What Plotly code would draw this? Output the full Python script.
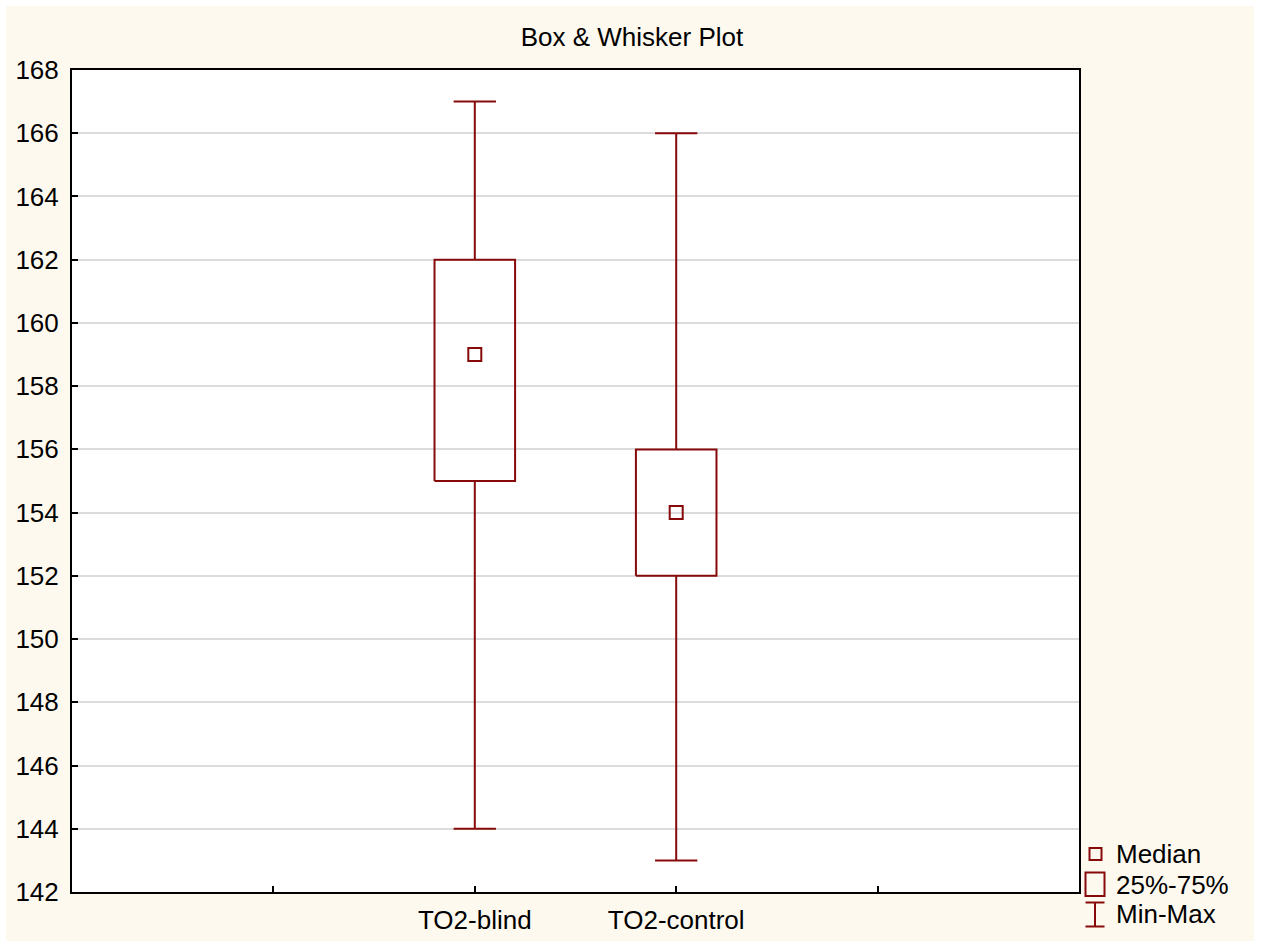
import plotly.graph_objects as go

# Summary statistics per group
categories = ["TO2-blind", "TO2-control"]
positions = [2, 3]
mins = [144, 143]
q1s = [155, 152]
medians = [159, 154]
q3s = [162, 156]
maxs = [167, 166]

x_tickvals = [1, 2, 3, 4]
x_ticktext = ["", "TO2-blind", "TO2-control", ""]
y_tickvals = list(range(142, 170, 2))

W, H = 1264, 943
ML, MR, MT, MB = 72, 185, 70, 51
FONT = "Liberation Sans, Arial, sans-serif"
FS = 26
RED = "#860A0A"
CREAM = "#FEF9EE"

BOX_HALF = 0.2
CAP_HALF = 0.105

fig = go.Figure()

# whiskers and caps
wx, wy = [], []
for p, lo, a, b, hi in zip(positions, mins, q1s, q3s, maxs):
    wx += [p, p, None, p, p, None]
    wy += [lo, a, None, b, hi, None]
    wx += [p - CAP_HALF, p + CAP_HALF, None, p - CAP_HALF, p + CAP_HALF, None]
    wy += [lo, lo, None, hi, hi, None]
fig.add_trace(go.Scatter(x=wx, y=wy, mode="lines", line=dict(color=RED, width=2),
                         hoverinfo="skip", showlegend=False))

# 25%-75% boxes
bx, by = [], []
for p, a, b in zip(positions, q1s, q3s):
    bx += [p - BOX_HALF, p + BOX_HALF, p + BOX_HALF, p - BOX_HALF, p - BOX_HALF, None]
    by += [a, a, b, b, a, None]
fig.add_trace(go.Scatter(x=bx, y=by, mode="lines", line=dict(color=RED, width=2),
                         hoverinfo="skip", showlegend=False))

# medians
fig.add_trace(go.Scatter(x=positions, y=medians, mode="markers",
                         marker=dict(symbol="square-open", size=13, color=RED,
                                     line=dict(width=2, color=RED)),
                         showlegend=False))

pw = W - ML - MR
ph = H - MT - MB


def px(xp):
    return (xp - ML) / pw


def py(yp):
    return (H - MB - yp) / ph


shapes = [
    # cream page background
    dict(type="rect", xref="paper", yref="paper", x0=px(6), x1=px(1254), y0=py(941), y1=py(6),
         fillcolor=CREAM, line=dict(width=0), layer="below"),
    # white plotting area
    dict(type="rect", xref="paper", yref="paper", x0=0, x1=1, y0=0, y1=1,
         fillcolor="white", line=dict(width=0), layer="below"),
    # legend: median
    dict(type="rect", xref="paper", yref="paper", x0=px(1089.5), x1=px(1101.5), y0=py(860), y1=py(848),
         line=dict(color=RED, width=2), fillcolor="rgba(0,0,0,0)"),
    # legend: 25%-75%
    dict(type="rect", xref="paper", yref="paper", x0=px(1085.5), x1=px(1104.5), y0=py(896), y1=py(872.5),
         line=dict(color=RED, width=2), fillcolor="rgba(0,0,0,0)"),
    # legend: min-max
    dict(type="line", xref="paper", yref="paper", x0=px(1095), x1=px(1095), y0=py(926.5), y1=py(902.5),
         line=dict(color=RED, width=2)),
    dict(type="line", xref="paper", yref="paper", x0=px(1085.5), x1=px(1104.5), y0=py(926.5), y1=py(926.5),
         line=dict(color=RED, width=2)),
    dict(type="line", xref="paper", yref="paper", x0=px(1085.5), x1=px(1104.5), y0=py(902.5), y1=py(902.5),
         line=dict(color=RED, width=2)),
]

annotations = []
for label, yc in [("Median", 854), ("25%-75%", 884.5), ("Min-Max", 914)]:
    annotations.append(dict(text=label, xref="paper", yref="paper", x=px(1114), y=py(yc),
                            xanchor="left", yanchor="middle", showarrow=False,
                            font=dict(family=FONT, size=FS, color="black")))

fig.update_layout(
    width=W, height=H,
    margin=dict(l=ML, r=MR, t=MT, b=MB, pad=0, autoexpand=False),
    paper_bgcolor="white",
    plot_bgcolor="white",
    font=dict(family=FONT, size=FS, color="black"),
    title=dict(text="Box & Whisker Plot", x=0.5, xref="container", xanchor="center",
               y=1 - 37 / H, yref="container", yanchor="middle",
               font=dict(family=FONT, size=FS, color="black")),
    shapes=shapes,
    annotations=annotations,
    showlegend=False,
)

fig.update_xaxes(range=[0, 5], tickvals=x_tickvals, ticktext=x_ticktext,
                 showgrid=False, zeroline=False, automargin=False,
                 showline=True, linecolor="black", linewidth=2, mirror=True,
                 ticks="inside", ticklen=6, tickwidth=1.5, tickcolor="black",
                 ticklabelstandoff=4,
                 tickfont=dict(family=FONT, size=FS, color="black"))
fig.update_yaxes(range=[142, 168], tickvals=y_tickvals,
                 showgrid=True, gridcolor="#DCDCDC", gridwidth=1.5, zeroline=False,
                 automargin=False,
                 showline=True, linecolor="black", linewidth=2, mirror=True,
                 ticks="inside", ticklen=6, tickwidth=1.5, tickcolor="black",
                 ticklabelstandoff=6,
                 tickfont=dict(family=FONT, size=FS, color="black"))

fig.write_html("out.html")
